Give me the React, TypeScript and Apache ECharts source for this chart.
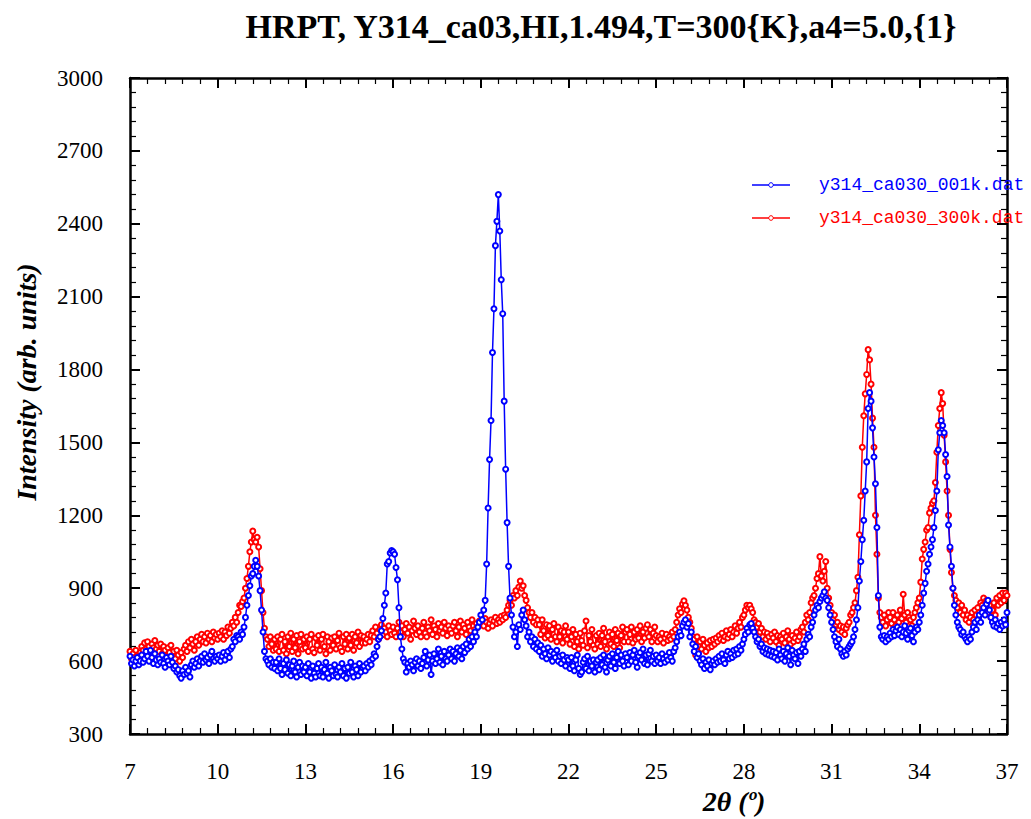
import React, { useEffect, useRef } from "react";
import * as echarts from "echarts";

// 2θ grid of the scan (degrees)
const THETA_START = 7;
const THETA_STEP = 0.05;

const X_MIN = 7;
const X_MAX = 37;
const X_INTERVAL = 3;
const Y_MIN = 300;
const Y_MAX = 3000;
const Y_INTERVAL = 300;

const TITLE = "HRPT, Y314_ca03,HI,1.494,T=300{K},a4=5.0,{1}";
const NAME_1K = "y314_ca030_001k.dat";
const NAME_300K = "y314_ca030_300k.dat";

// intensity, 1 K scan (one row per degree, 0.05° steps)
const blue1K = [
  620,590,605,580,600,615,585,600,625,595,610,640,620,600,645,615,590,630,605,585,
  610,595,625,590,575,615,600,585,620,595,570,580,555,565,540,530,560,545,575,550,
  560,535,585,600,575,590,610,580,600,620,595,630,605,615,590,625,640,610,600,620,
  610,625,600,620,635,605,625,640,615,650,660,690,680,705,700,690,720,710,740,780,
  830,870,910,950,960,990,1015,990,950,890,810,720,640,610,600,585,610,575,595,570,
  595,560,610,570,545,590,565,605,550,585,540,580,600,555,535,575,595,545,580,555,
  575,540,590,555,530,580,550,535,570,590,540,575,535,565,595,550,530,575,560,540,
  585,545,535,575,555,590,540,570,530,575,550,595,555,535,580,565,540,590,555,575,
  580,560,590,575,600,585,610,630,620,660,690,700,725,775,830,880,1000,1010,1045,1055,
  1050,1040,985,935,820,700,650,610,595,555,590,575,600,585,560,595,610,580,600,570,
  590,615,640,580,605,625,545,600,630,590,610,650,595,620,585,640,610,600,625,650,
  610,640,600,630,655,620,645,610,660,635,670,650,690,660,700,680,720,700,740,760,
  790,770,810,850,1000,1230,1430,1590,1870,2050,2310,2410,2520,2370,2170,2030,1670,1390,1170,990,
  860,790,740,700,720,660,750,730,790,810,770,745,700,720,680,700,660,690,650,675,
  640,665,620,650,630,610,655,625,640,600,630,615,645,600,620,590,625,605,580,615,
  605,570,615,580,560,605,625,570,545,555,595,610,570,620,560,600,580,605,555,595,
  605,565,615,585,625,575,555,605,620,580,630,595,570,615,640,590,625,600,580,630,
  615,585,635,600,625,645,595,575,620,635,605,650,590,625,585,630,645,600,620,590,
  625,600,615,590,630,610,595,620,605,635,615,600,640,655,680,700,720,705,745,760,
  770,740,755,700,720,670,640,660,615,630,600,585,610,570,595,580,605,565,590,600,
  585,610,595,620,600,630,605,590,625,640,610,630,615,645,625,650,630,660,645,670,
  690,710,735,720,750,755,735,720,700,680,690,660,670,640,655,630,650,625,645,620,
  640,615,635,605,650,625,610,640,600,630,655,620,585,645,625,610,635,590,640,620,
  650,670,640,690,710,700,740,760,790,810,830,820,845,860,870,885,860,850,820,790,
  760,730,700,680,660,690,650,630,620,640,625,650,660,670,680,700,730,770,820,930,
  1010,1100,1180,1300,1420,1640,1705,1670,1560,1440,1330,1150,870,740,700,690,705,680,700,690,
  715,700,730,705,725,740,710,730,700,720,745,715,690,725,735,705,680,720,740,730,
  760,790,830,880,920,970,1000,1040,1070,1100,1150,1220,1300,1470,1540,1590,1570,1540,1450,1360,
  1160,1070,990,900,830,790,760,740,730,710,720,700,690,680,700,690,720,740,760,730,
  770,790,760,800,820,790,835,850,810,780,760,745,770,740,755,730,760,745,770,750,
  800,
];

// intensity, 300 K scan
const red300K = [
  640,610,630,615,645,620,600,635,660,645,675,650,680,660,640,670,655,685,650,665,
  640,670,630,660,645,615,655,635,665,620,640,610,645,625,600,635,615,650,665,640,
  680,655,690,670,645,680,700,665,690,710,680,700,675,715,690,705,680,720,695,710,
  690,715,700,725,690,720,705,740,715,735,760,745,780,760,800,830,825,845,860,900,
  940,990,1050,1090,1135,1100,1090,1110,1070,980,890,800,735,700,690,660,700,670,645,690,
  650,700,640,690,710,645,680,630,700,660,715,640,690,655,705,630,680,710,650,690,
  655,700,640,690,710,650,635,695,665,705,645,690,710,660,630,700,680,645,695,665,
  700,650,685,715,655,640,700,670,710,650,695,665,710,645,700,675,720,660,705,675,
  700,675,690,710,680,705,725,700,740,715,690,730,750,710,735,720,700,745,725,710,
  740,715,700,735,760,720,745,700,730,755,715,740,690,725,765,735,710,745,720,700,
  735,760,715,700,740,725,770,710,745,730,700,755,725,740,715,760,735,705,745,730,
  715,745,760,725,700,740,765,720,750,735,710,760,740,725,770,745,730,755,740,765,
  750,770,745,775,760,735,755,770,745,765,780,755,770,760,785,770,790,780,810,830,
  850,830,870,860,890,870,905,930,900,910,870,850,820,800,780,800,760,780,750,770,
  750,710,770,725,695,750,705,745,690,730,755,700,680,740,700,725,675,720,745,690,
  720,670,700,730,660,710,680,650,715,685,665,725,765,655,705,680,730,665,650,705,
  670,715,660,705,735,680,650,700,720,670,710,660,730,685,715,655,705,740,680,720,
  730,680,710,740,675,720,690,730,695,745,680,720,695,735,750,700,730,680,715,740,
  705,680,700,690,715,675,695,710,685,700,690,720,700,730,760,790,815,800,835,848,
  830,810,780,760,735,700,690,625,700,660,680,650,690,665,640,675,655,685,660,690,
  670,695,680,705,690,715,685,700,725,695,710,730,700,720,745,715,735,760,740,780,
  790,810,830,820,830,815,800,770,760,740,755,720,735,700,720,690,715,700,680,710,
  695,720,680,705,665,700,690,715,675,700,725,690,670,705,680,695,720,685,700,730,
  740,720,760,790,770,800,840,860,870,900,940,960,1030,950,930,970,1010,900,860,830,
  800,770,790,750,760,730,745,720,740,710,735,750,760,790,800,820,840,890,945,1120,
  1280,1480,1610,1700,1780,1882,1840,1740,1600,1480,1200,1040,860,800,780,760,790,745,770,800,
  780,755,800,770,745,790,760,810,775,875,790,760,800,780,770,745,780,800,820,840,
  860,925,1020,1060,1090,1140,1150,1210,1230,1250,1260,1335,1460,1570,1640,1705,1660,1530,1420,1300,
  1200,1060,965,900,870,850,820,840,800,830,790,810,770,790,760,780,800,770,810,790,
  820,800,840,830,860,820,850,800,830,780,810,840,790,860,830,870,840,880,850,880,
  870,
];

const BLUE = "#0000ff";
const RED = "#ff0000";
const SERIF = '"Liberation Serif", "Times New Roman", serif';
const MONO = '"Liberation Mono", "Courier New", monospace';

const toPairs = (vals: number[]) =>
  vals.map((v, i) => [Number((THETA_START + i * THETA_STEP).toFixed(2)), v]);

export default function App() {
  const ref = useRef<HTMLDivElement>(null);

  useEffect(() => {
    document.body.style.margin = "0";
    if (!ref.current) return;
    const chart = echarts.init(ref.current, null, { renderer: "svg" });

    const axisLine = { show: true, onZero: false, lineStyle: { color: "#000", width: 2.5 } };
    const axisTick = { show: true, inside: true, length: 10, lineStyle: { color: "#000", width: 2 } };
    const minorTick = { show: true, splitNumber: 5, length: 6, lineStyle: { color: "#000", width: 1.2 } };
    const labelStyle = { fontFamily: SERIF, fontSize: 23, color: "#000" };
    const plain = (v: number) => String(v);

    const seriesCommon = {
      type: "line" as const,
      symbol: "emptyCircle",
      symbolSize: 5,
      showAllSymbol: true,
      clip: true,
    };

    const legendItem = (y: number, color: string, text: string) => [
      { type: "line", shape: { x1: 752, y1: y, x2: 790, y2: y }, style: { stroke: color, lineWidth: 1.5 }, z: 100 },
      { type: "circle", shape: { cx: 771, cy: y, r: 2.3 }, style: { fill: "#fff", stroke: color, lineWidth: 1 }, z: 101 },
      {
        type: "text", x: 819, y, z: 100,
        style: { text, font: `18px ${MONO}`, fill: color, align: "left", verticalAlign: "middle", textAlign: "left", textVerticalAlign: "middle" },
      },
    ];

    chart.setOption({
      animation: false,
      backgroundColor: "#fff",
      title: {
        text: TITLE,
        left: 596,
        top: 4,
        textAlign: "center",
        textStyle: { fontFamily: SERIF, fontWeight: "bold", fontSize: 34, color: "#000" },
      },
      grid: { left: 130, right: 24, top: 78, bottom: 85 },
      xAxis: [
        {
          type: "value", min: X_MIN, max: X_MAX, interval: X_INTERVAL, position: "bottom",
          axisLine, axisTick, minorTick, splitLine: { show: false },
          axisLabel: { ...labelStyle, margin: 26, formatter: plain },
        },
        {
          type: "value", min: X_MIN, max: X_MAX, interval: X_INTERVAL, position: "top",
          axisLine, axisTick, minorTick, splitLine: { show: false },
          axisLabel: { show: false },
        },
      ],
      yAxis: [
        {
          type: "value", min: Y_MIN, max: Y_MAX, interval: Y_INTERVAL, position: "left",
          axisLine, axisTick, minorTick, splitLine: { show: false },
          axisLabel: { ...labelStyle, margin: 27, formatter: plain },
        },
        {
          type: "value", min: Y_MIN, max: Y_MAX, interval: Y_INTERVAL, position: "right",
          axisLine, axisTick, minorTick, splitLine: { show: false },
          axisLabel: { show: false },
        },
      ],
      series: [
        {
          ...seriesCommon, name: NAME_300K, data: toPairs(red300K), z: 3,
          itemStyle: { color: RED, borderColor: RED, borderWidth: 1 },
          lineStyle: { color: RED, width: 1.5 },
        },
        {
          ...seriesCommon, name: NAME_1K, data: toPairs(blue1K), z: 4,
          itemStyle: { color: BLUE, borderColor: BLUE, borderWidth: 1 },
          lineStyle: { color: BLUE, width: 1.5 },
        },
      ],
      graphic: [
        ...legendItem(185, BLUE, NAME_1K),
        ...legendItem(218, RED, NAME_300K),
        {
          type: "text", x: 26, y: 382, rotation: Math.PI / 2,
          style: {
            text: "Intensity (arb. units)", font: `italic bold 28px ${SERIF}`, fill: "#000",
            align: "center", verticalAlign: "middle", textAlign: "center", textVerticalAlign: "middle",
          },
        },
        {
          type: "text", x: 734, y: 801,
          style: {
            text: "2θ (º)", font: `italic bold 28px ${SERIF}`, fill: "#000",
            align: "center", verticalAlign: "middle", textAlign: "center", textVerticalAlign: "middle",
          },
        },
      ],
    });

    return () => chart.dispose();
  }, []);

  return <div ref={ref} style={{ width: 1031, height: 819 }} />;
}
